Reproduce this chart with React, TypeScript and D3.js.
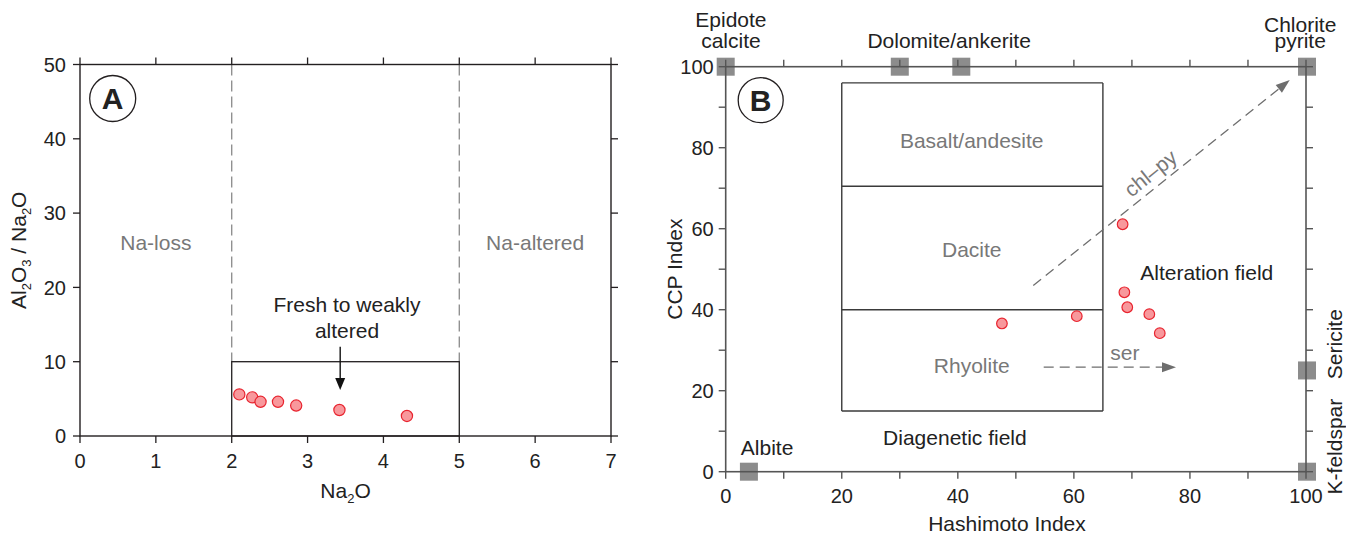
import * as d3 from "d3";
import * as React from "react";

const FONT = "'Liberation Sans', Arial, Helvetica, sans-serif";
const GRAY_TXT = "#787878";
const DARK = "#231f20";

// Panel A: Na2O vs Al2O3/Na2O
const naO = [2.1, 2.27, 2.38, 2.61, 2.85, 3.42, 4.31];
const alNa = [5.6, 5.2, 4.6, 4.6, 4.1, 3.5, 2.7];
const xTicksA = [0, 1, 2, 3, 4, 5, 6, 7];
const yTicksA = [0, 10, 20, 30, 40, 50];
const freshBox = { x0: 2, x1: 5, y0: 0, y1: 10 };

// Panel B: Hashimoto (AI) vs CCP index
const hashimoto = [47.6, 60.5, 68.4, 68.7, 69.2, 73.0, 74.8];
const ccp = [36.6, 38.4, 61.1, 44.3, 40.6, 38.9, 34.2];
const xTicksB = [0, 10, 20, 30, 40, 50, 60, 70, 80, 90, 100];
const yTicksB = [0, 10, 20, 30, 40, 50, 60, 70, 80, 90, 100];
const fieldEdges = [15, 40, 70.5, 96];
const fieldNames = ["Rhyolite", "Dacite", "Basalt/andesite"];
const fieldLabelY = [24.4, 53, 80];
const fieldX = [20, 65];
const mineralX = [0, 30, 40.6, 100, 100, 100, 4];
const mineralY = [100, 100, 100, 100, 25, 0, 0];

function head(x1: number, y1: number, x2: number, y2: number, len = 13, half = 5) {
  const a = Math.atan2(y2 - y1, x2 - x1);
  const bx = x2 - len * Math.cos(a), by = y2 - len * Math.sin(a);
  const px = -Math.sin(a) * half, py = Math.cos(a) * half;
  return {
    pts: `${x2},${y2} ${bx + px},${by + py} ${bx - px},${by - py}`,
    bx, by,
  };
}

function Sub({ base, sub, rest }: { base: string, sub: string, rest?: string }) {
  return (
    <>
      {base}<tspan fontSize={13} dy={5}>{sub}</tspan><tspan dy={-5}>{rest}</tspan>
    </>
  );
}

export default function App() {
  const xA = d3.scaleLinear().domain([0, 7]).range([80, 611]);
  const yA = d3.scaleLinear().domain([0, 50]).range([436, 64.5]);
  const xB = d3.scaleLinear().domain([0, 100]).range([725.7, 1306]);
  const yB = d3.scaleLinear().domain([0, 100]).range([471.7, 66.7]);
  const TK = 7;

  // arrows
  const aArrow = head(xA(3.43), yA(12), xA(3.43), yA(6.2), 12, 5);
  const chl = head(xB(53), yB(46), xB(97.2), yB(96.7), 14, 5);
  const ser = head(xB(54.8), yB(25.8), xB(77.6), yB(25.8), 14, 5);
  const chlAngle = Math.atan2(yB(96.7) - yB(46), xB(97.2) - xB(53)) * 180 / Math.PI;

  const [ax0, ax1] = xA.range(), [ay0, ay1] = yA.range();
  const [bx0, bx1] = xB.range(), [by0, by1] = yB.range();

  return (
    <svg width={1346} height={534} style={{ position: "absolute", left: 0, top: 0 }}
      fontFamily={FONT} fontSize={21} fill="#222">
      <rect width={1346} height={534} fill="#fff" />

      {/* ---------- Panel A ---------- */}
      <g>
        {[freshBox.x0, freshBox.x1].map(v => (
          <line key={v} x1={xA(v)} x2={xA(v)} y1={yA(50)} y2={yA(freshBox.y1)}
            stroke="#8a8a8a" strokeWidth={1.3} strokeDasharray="11,5" />
        ))}
        <rect x={xA(freshBox.x0)} y={yA(freshBox.y1)} width={xA(freshBox.x1) - xA(freshBox.x0)}
          height={yA(freshBox.y0) - yA(freshBox.y1)} fill="none" stroke={DARK} strokeWidth={1.3} />
        <rect x={ax0} y={ay1} width={ax1 - ax0} height={ay0 - ay1} fill="none" stroke={DARK} strokeWidth={1.4} />
        {xTicksA.map(t => (
          <g key={"xa" + t}>
            <line x1={xA(t)} x2={xA(t)} y1={ay0} y2={ay0 + TK} stroke={DARK} strokeWidth={1.3} />
            <line x1={xA(t)} x2={xA(t)} y1={ay1} y2={ay1 - TK} stroke={DARK} strokeWidth={1.3} />
            <text x={xA(t)} y={468} textAnchor="middle" fontSize={20}>{t}</text>
          </g>
        ))}
        {yTicksA.map(t => (
          <g key={"ya" + t}>
            <line x1={ax0} x2={ax0 - TK} y1={yA(t)} y2={yA(t)} stroke={DARK} strokeWidth={1.3} />
            <line x1={ax1} x2={ax1 + TK} y1={yA(t)} y2={yA(t)} stroke={DARK} strokeWidth={1.3} />
            <text x={ax0 - 14} y={yA(t)} dy="0.36em" textAnchor="end" fontSize={20}>{t}</text>
          </g>
        ))}
        <text x={(ax0 + ax1) / 2 + 0} y={498} textAnchor="middle" dx={-0}>
          <Sub base="Na" sub="2" rest="O" />
        </text>
        <text transform={`translate(26,${(ay0 + ay1) / 2}) rotate(-90)`} textAnchor="middle">
          Al<tspan fontSize={13} dy={5}>2</tspan><tspan dy={-5}>O</tspan><tspan fontSize={13} dy={5}>3</tspan><tspan dy={-5}> / Na</tspan><tspan fontSize={13} dy={5}>2</tspan><tspan dy={-5}>O</tspan>
        </text>
        <text x={xA(1)} y={yA(25)} textAnchor="middle" fill={GRAY_TXT}>Na-loss</text>
        <text x={xA(6)} y={yA(25)} textAnchor="middle" fill={GRAY_TXT}>Na-altered</text>
        <text x={xA(3.52)} y={yA(16.7)} textAnchor="middle">Fresh to weakly</text>
        <text x={xA(3.52)} y={yA(13.2)} textAnchor="middle">altered</text>
        <line x1={xA(3.43)} x2={aArrow.bx} y1={yA(12)} y2={aArrow.by} stroke="#111" strokeWidth={1.4} />
        <polygon points={aArrow.pts} fill="#111" />
        {naO.map((v, i) => (
          <circle key={"pa" + i} cx={xA(v)} cy={yA(alNa[i])} r={5.6}
            fill="#f8989c" stroke="#e8242f" strokeWidth={1.2} />
        ))}
        <circle cx={ax0 + 32.7} cy={ay1 + 34} r={23} fill="#fff" stroke={DARK} strokeWidth={1.3} />
        <text x={ax0 + 32.7} y={ay1 + 34} dy="0.36em" textAnchor="middle" fontSize={30} fontWeight="bold">A</text>
      </g>

      {/* ---------- Panel B ---------- */}
      <g>
        {mineralX.map((v, i) => (
          <rect key={"m" + i} x={xB(v) - 9 + (v === 100 ? 1 : 0)} y={yB(mineralY[i]) - 9} width={18} height={18} fill="#8c8c8c" />
        ))}
        {fieldEdges.map(v => (
          <line key={"fe" + v} x1={xB(fieldX[0])} x2={xB(fieldX[1])} y1={yB(v)} y2={yB(v)} stroke="#3a3a3a" strokeWidth={1.4} />
        ))}
        {fieldX.map(v => (
          <line key={"fx" + v} x1={xB(v)} x2={xB(v)} y1={yB(fieldEdges[0])} y2={yB(fieldEdges[fieldEdges.length - 1])} stroke="#3a3a3a" strokeWidth={1.4} />
        ))}
        {fieldNames.map((n, i) => (
          <text key={n} x={xB(42.4)} y={yB(fieldLabelY[i])} textAnchor="middle" fill={GRAY_TXT}>{n}</text>
        ))}
        <rect x={bx0} y={by1} width={bx1 - bx0} height={by0 - by1} fill="none" stroke="#555" strokeWidth={1.6} />
        {xTicksB.map(t => (
          <g key={"xb" + t}>
            <line x1={xB(t)} x2={xB(t)} y1={by0} y2={by0 + TK} stroke="#555" strokeWidth={1.4} />
            <line x1={xB(t)} x2={xB(t)} y1={by1} y2={by1 - TK} stroke="#555" strokeWidth={1.4} />
            {t % 20 === 0 && <text x={xB(t)} y={503} textAnchor="middle" fontSize={20}>{t}</text>}
          </g>
        ))}
        {yTicksB.map(t => (
          <g key={"yb" + t}>
            <line x1={bx0} x2={bx0 - TK} y1={yB(t)} y2={yB(t)} stroke="#555" strokeWidth={1.4} />
            <line x1={bx1} x2={bx1 + TK} y1={yB(t)} y2={yB(t)} stroke="#555" strokeWidth={1.4} />
            {t % 20 === 0 && <text x={bx0 - 12} y={yB(t)} dy="0.36em" textAnchor="end" fontSize={20}>{t}</text>}
          </g>
        ))}
        <text x={1007} y={531} textAnchor="middle">Hashimoto Index</text>
        <text transform={`translate(682,${(by0 + by1) / 2}) rotate(-90)`} textAnchor="middle">CCP Index</text>

        {/* mineral labels */}
        <text x={xB(0.9)} y={27.3} textAnchor="middle">Epidote</text>
        <text x={xB(0.9)} y={48.3} textAnchor="middle">calcite</text>
        <text x={xB(38.5)} y={48.3} textAnchor="middle">Dolomite/ankerite</text>
        <text x={xB(99)} y={32} textAnchor="middle">Chlorite</text>
        <text x={xB(99)} y={48.3} textAnchor="middle">pyrite</text>
        <text x={xB(2.6)} y={yB(4.1)}>Albite</text>
        <text transform={`translate(1341.5,${yB(31.5)}) rotate(-90)`} textAnchor="middle">Sericite</text>
        <text transform={`translate(1341.5,${yB(6.2)}) rotate(-90)`} textAnchor="middle">K-feldspar</text>
        <text x={xB(39.5)} y={yB(6.6)} textAnchor="middle">Diagenetic field</text>
        <text x={xB(82.9)} y={yB(47.3)} textAnchor="middle">Alteration field</text>

        {/* alteration vectors */}
        <line x1={xB(53)} y1={yB(46)} x2={chl.bx} y2={chl.by} stroke="#6e6e6e" strokeWidth={1.3} strokeDasharray="10,6" />
        <polygon points={chl.pts} fill="#6e6e6e" />
        <text transform={`translate(${xB(73.2)},${yB(73.7)}) rotate(${chlAngle})`} dy="0.35em" textAnchor="middle" fill={GRAY_TXT}>chl–py</text>
        <line x1={xB(54.8)} y1={yB(25.8)} x2={ser.bx} y2={ser.by} stroke="#6e6e6e" strokeWidth={1.3} strokeDasharray="10,6" />
        <polygon points={ser.pts} fill="#6e6e6e" />
        <text x={xB(68.8)} y={yB(27.6)} textAnchor="middle" fill={GRAY_TXT}>ser</text>

        {hashimoto.map((v, i) => (
          <circle key={"pb" + i} cx={xB(v)} cy={yB(ccp[i])} r={5.3}
            fill="#f8989c" stroke="#e8242f" strokeWidth={1.2} />
        ))}
        <circle cx={bx0 + 35} cy={by1 + 33.5} r={22.5} fill="#fff" stroke={DARK} strokeWidth={1.3} />
        <text x={bx0 + 35} y={by1 + 33.5} dy="0.36em" textAnchor="middle" fontSize={30} fontWeight="bold">B</text>
      </g>
    </svg>
  );
}
